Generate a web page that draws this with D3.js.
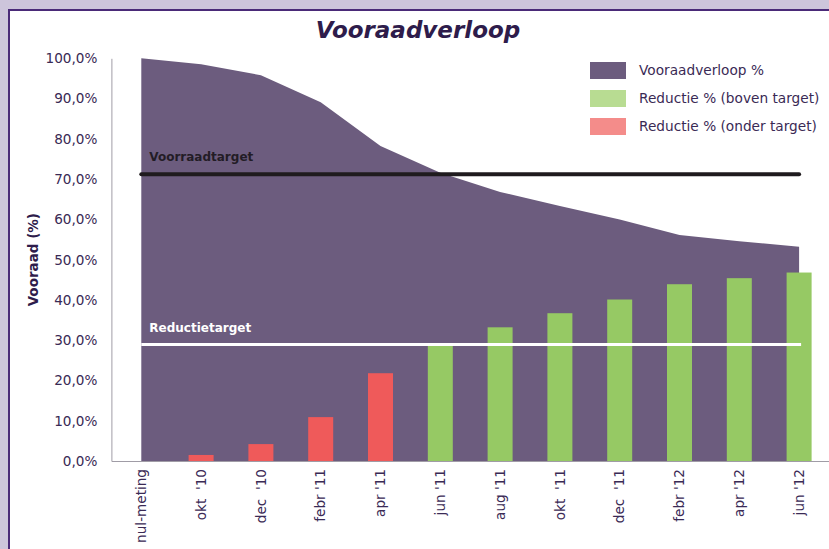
<!DOCTYPE html>
<meta charset="utf-8">
<script src="https://d3js.org/d3.v7.min.js"></script>
<style>
  body { margin: 0; background: #cdc5db; }
  svg { display: block; }
  text { font-family: "DejaVu Sans", Verdana, sans-serif; fill: #3a2a55; white-space: pre; }
</style>
<body>
<div id="chart"></div>
<script>

// categories and values
var categories = ["nul-meting", "okt  '10", "dec  '10", "febr '11", "apr '11", "jun '11",
                  "aug '11", "okt  '11", "dec  '11", "febr '12", "apr '12", "jun '12"];
var voorraad = [100, 98.5, 95.8, 89.1, 78.2, 71.6, 66.8, 63.3, 60.0, 56.1, 54.6, 53.2];
var reductie = [null, 1.5, 4.2, 10.9, 21.8, 29.0, 33.2, 36.7, 40.1, 43.9, 45.4, 46.8];
var voorraadTarget = 71.2;
var reductieTarget = 28.9;
var yTicks = [0, 10, 20, 30, 40, 50, 60, 70, 80, 90, 100];
var legendLabels = ["Vooraadverloop %", "Reductie % (boven target)", "Reductie % (onder target)"];
var legendColors = ["#6c5c7e", "#b8dc92", "#f48c8a"];

var width = 829, height = 549;
var svg = d3.select("#chart").append("svg")
    .attr("width", width)
    .attr("height", height);

// white panel with purple border
svg.append("rect")
    .attr("x", 9).attr("y", 10)
    .attr("width", 840).attr("height", 560)
    .attr("fill", "#fff")
    .attr("stroke", "#4a2a78")
    .attr("stroke-width", 2);

var x = d3.scaleBand().domain(categories).range([111.4, 829]);
var y = d3.scaleLinear().domain([0, 100]).range([461, 58.3]);
var cx = function(d) { return x(d) + x.bandwidth() / 2; };

// title
svg.append("text")
    .attr("x", 418).attr("y", 38)
    .attr("text-anchor", "middle")
    .style("font-size", "23px")
    .style("font-weight", "bold")
    .style("font-style", "italic")
    .style("fill", "#2e1c4b")
    .text("Vooraadverloop");

// area
var area = d3.area()
    .x(function(d, i) { return cx(categories[i]); })
    .y0(y(0))
    .y1(function(d) { return y(d); });

svg.append("path")
    .datum(voorraad)
    .attr("d", area)
    .attr("fill", "#6c5c7e");

// bars
var barW = 25;
svg.selectAll(".bar")
    .data(reductie.map(function(v, i) { return {c: categories[i], v: v}; }).filter(function(d) { return d.v != null; }))
    .enter().append("rect")
    .attr("class", "bar")
    .attr("x", function(d) { return cx(d.c) - barW / 2; })
    .attr("width", barW)
    .attr("y", function(d) { return y(d.v); })
    .attr("height", function(d) { return y(0) - y(d.v); })
    .attr("fill", function(d) { return d.v >= reductieTarget ? "#96c964" : "#ef5a5a"; });

// axes (no ticks, just lines and labels)
var yAxis = svg.append("g")
    .attr("transform", "translate(111.4,0)")
    .call(d3.axisLeft(y).tickValues(yTicks).tickSize(0).tickPadding(14)
        .tickFormat(function(d) { return d.toFixed(1).replace(".", ",") + "%"; }));
yAxis.select(".domain").attr("stroke", "#a09ca6");
yAxis.selectAll("text").style("font-size", "13.6px").style("fill", "#3a2a55");

var xAxis = svg.append("g")
    .attr("transform", "translate(0," + y(0) + ")")
    .call(d3.axisBottom(x).tickSize(0));
xAxis.select(".domain").attr("stroke", "#a09ca6");
xAxis.selectAll("text")
    .style("font-size", "13.6px")
    .style("fill", "#3a2a55")
    .attr("text-anchor", "end")
    .attr("transform", "rotate(-90)")
    .attr("x", -8)
    .attr("y", 0)
    .attr("dy", "0.35em");

// y title
svg.append("text")
    .attr("transform", "translate(38," + (y(50)) + ") rotate(-90)")
    .attr("text-anchor", "middle")
    .style("font-size", "13.5px")
    .style("font-weight", "bold")
    .style("fill", "#2e1c4b")
    .text("Vooraad (%)");

// target lines
var first = cx(categories[0]), last = cx(categories[categories.length - 1]);
svg.append("line")
    .attr("x1", first).attr("x2", last)
    .attr("y1", y(voorraadTarget)).attr("y2", y(voorraadTarget))
    .attr("stroke", "#1f1b1e").attr("stroke-width", 4)
    .attr("stroke-linecap", "round");
svg.append("text")
    .attr("x", first + 8).attr("y", y(voorraadTarget) - 13)
    .style("font-size", "12px").style("font-weight", "bold")
    .style("fill", "#231c26")
    .text("Voorraadtarget");

svg.append("line")
    .attr("x1", first).attr("x2", last + 2)
    .attr("y1", y(reductieTarget)).attr("y2", y(reductieTarget))
    .attr("stroke", "#fff").attr("stroke-width", 3);
svg.append("text")
    .attr("x", first + 8).attr("y", y(reductieTarget) - 13)
    .style("font-size", "12px").style("font-weight", "bold")
    .style("fill", "#fff")
    .text("Reductietarget");

// legend
var legend = svg.selectAll(".legend")
    .data(legendLabels)
    .enter().append("g")
    .attr("class", "legend")
    .attr("transform", function(d, i) { return "translate(590," + (62 + i * 28) + ")"; });
legend.append("rect")
    .attr("width", 36).attr("height", 17)
    .attr("fill", function(d, i) { return legendColors[i]; });
legend.append("text")
    .attr("x", 49).attr("y", 13)
    .style("font-size", "13.7px")
    .style("fill", "#3a2a55")
    .text(function(d) { return d; });

</script>
</body>
